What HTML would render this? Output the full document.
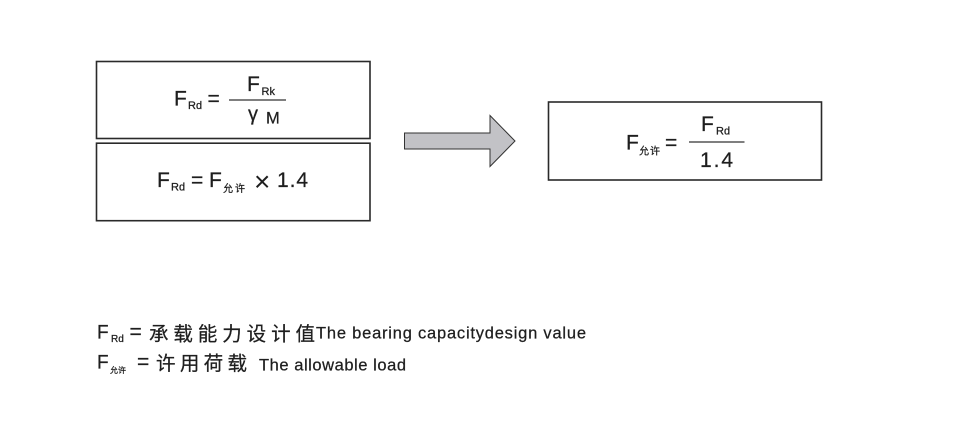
<!DOCTYPE html>
<html>
<head>
<meta charset="utf-8">
<style>
  html,body{margin:0;padding:0;background:#fff;}
  body{width:953px;height:423px;overflow:hidden;}
  svg{display:block;}
  text{font-family:"Liberation Sans","Noto Sans CJK SC",sans-serif;fill:#1e1e1e;stroke:#1e1e1e;stroke-width:0.25;}
  .cjk{font-family:"Liberation Sans","Noto Sans CJK SC",sans-serif;}
</style>
</head>
<body>
<svg width="953" height="423" viewBox="0 0 953 423" xmlns="http://www.w3.org/2000/svg">
  <!-- Boxes -->
  <rect x="96.5" y="61.5" width="273.5" height="77" fill="none" stroke="#2a2a2a" stroke-width="1.6"/>
  <rect x="96.5" y="143.2" width="273.5" height="77.5" fill="none" stroke="#2a2a2a" stroke-width="1.6"/>
  <rect x="548.5" y="102" width="273" height="78" fill="none" stroke="#2a2a2a" stroke-width="1.6"/>

  <!-- Arrow -->
  <polygon points="404.5,133 490,133 490,115.5 515,141 490,166.5 490,149 404.5,149" fill="#c2c2c6" stroke="#333" stroke-width="1"/>

  <!-- Box 1 formula: F_Rd = F_Rk / γM -->
  <text x="174" y="105.5" font-size="21">F</text>
  <text x="188" y="109" font-size="11">Rd</text>
  <text x="207.5" y="105.5" font-size="21">=</text>
  <line x1="229" y1="100" x2="286" y2="100" stroke="#555" stroke-width="1.5"/>
  <text x="247" y="91" font-size="21">F</text>
  <text x="261.5" y="95" font-size="11">Rk</text>
  <text x="248" y="120.5" font-size="20">γ</text>
  <text x="266" y="123.5" font-size="16.5">M</text>

  <!-- Box 2 formula: F_Rd = F_允许 × 1.4 -->
  <text x="157" y="187" font-size="21">F</text>
  <text x="171" y="190.5" font-size="11">Rd</text>
  <text x="191" y="187" font-size="21">=</text>
  <text x="209" y="187" font-size="21">F</text>
  <text x="223" y="192" font-size="10" class="cjk" textLength="22" lengthAdjust="spacing">允许</text>
  <text x="254" y="191" font-size="28" style="stroke-width:0">×</text>
  <text x="277" y="187" font-size="21" textLength="31" lengthAdjust="spacing">1.4</text>

  <!-- Right box formula: F_允许 = F_Rd / 1.4 -->
  <text x="626" y="149.5" font-size="21">F</text>
  <text x="639" y="154.5" font-size="10" class="cjk" textLength="21" lengthAdjust="spacing">允许</text>
  <text x="665" y="149.5" font-size="21">=</text>
  <line x1="689" y1="142" x2="744.5" y2="142" stroke="#555" stroke-width="1.5"/>
  <text x="701" y="131" font-size="21">F</text>
  <text x="716" y="134.5" font-size="11">Rd</text>
  <text x="700" y="167" font-size="21" textLength="33" lengthAdjust="spacing">1.4</text>

  <!-- Legend -->
  <text x="97" y="338.5" font-size="19">F</text>
  <text x="111" y="342" font-size="10">Rd</text>
  <text x="129.5" y="338.5" font-size="21">=</text>
  <text x="149" y="340.5" font-size="19.5" class="cjk" textLength="166" lengthAdjust="spacing">承载能力设计值</text>
  <text x="316" y="338.5" font-size="16.5" textLength="270" lengthAdjust="spacing">The bearing capacitydesign value</text>

  <text x="97" y="368.5" font-size="19">F</text>
  <text x="110" y="373" font-size="8" class="cjk" textLength="16" lengthAdjust="spacing">允许</text>
  <text x="137" y="368.5" font-size="21">=</text>
  <text x="156" y="370" font-size="19.5" class="cjk" textLength="91" lengthAdjust="spacing">许用荷载</text>
  <text x="259" y="370.5" font-size="16.5" textLength="147" lengthAdjust="spacing">The allowable load</text>
</svg>
</body>
</html>
